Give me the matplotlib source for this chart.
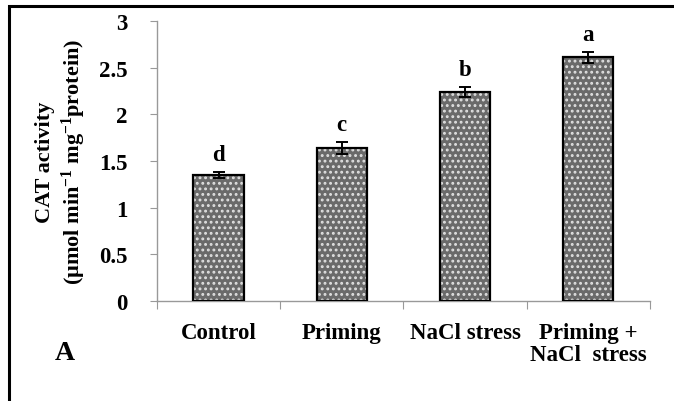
import numpy as np
import matplotlib.pyplot as plt
from matplotlib.patches import Rectangle

# Data
categories = ["Control", "Priming", "NaCl stress", "Priming +\nNaCl  stress"]
cat_activity = [1.35, 1.64, 2.24, 2.61]
errors = [0.03, 0.06, 0.05, 0.06]
letters = ["d", "c", "b", "a"]
y_ticks = [0, 0.5, 1, 1.5, 2, 2.5, 3]
y_tick_labels = ["0", "0.5", "1", "1.5", "2", "2.5", "3"]

plt.rcParams["font.family"] = ["Liberation Serif", "DejaVu Serif"]
plt.rcParams["font.weight"] = "bold"
plt.rcParams["mathtext.fontset"] = "custom"
plt.rcParams["mathtext.rm"] = "Liberation Serif:bold"
plt.rcParams["mathtext.bf"] = "Liberation Serif:bold"
plt.rcParams["mathtext.default"] = "bf"
plt.rcParams["hatch.linewidth"] = 1.3

fig = plt.figure(figsize=(6.74, 4.02), dpi=100)
ax = fig.add_axes([0.233, 0.249, 0.731, 0.696])

x = np.arange(len(categories))
width = 0.41

# textured fill, then black outline
ax.bar(x, cat_activity, width, color="#6a6a6a", edgecolor="#e0e0e0",
       hatch="...", linewidth=0, zorder=2)
ax.bar(x, cat_activity, width, fill=False, edgecolor="black",
       linewidth=1.6, zorder=3)
ax.errorbar(x, cat_activity, yerr=errors, fmt="none", ecolor="black",
            elinewidth=1.4, capsize=4, capthick=1.4, zorder=4)

for xi, v, e, lab in zip(x, cat_activity, errors, letters):
    ax.annotate(lab, (xi, v + e), xytext=(0, 5), textcoords="offset points",
                ha="center", va="bottom", fontsize=16.5, fontweight="bold")

ax.set_xlim(-0.5, 3.5)
ax.set_ylim(0, 3)
ax.set_yticks(y_ticks)
ax.set_yticklabels(y_tick_labels, fontsize=16.5, fontweight="bold")

# boundary ticks on x, labels at centres
ax.set_xticks(np.arange(-0.5, 4.0, 1.0))
ax.set_xticklabels([])
ax.set_xticks(x, minor=True)
ax.set_xticklabels(categories, minor=True, fontsize=16.5, fontweight="bold",
                   linespacing=1.05, va="top")
ax.tick_params(axis="x", which="minor", length=0, pad=15)
ax.tick_params(axis="x", which="major", length=6, color="#999999",
               direction="out")
ax.tick_params(axis="y", length=5, color="#999999", direction="out", pad=16)

for s in ["top", "right"]:
    ax.spines[s].set_visible(False)
for s in ["left", "bottom"]:
    ax.spines[s].set_color("#999999")
    ax.spines[s].set_linewidth(1.0)

ax.set_ylabel("CAT activity\n(µmol min$^{-1}$ mg$^{-1}$protein)",
              fontsize=16, fontweight="bold", linespacing=1.25, labelpad=8)

fig.text(0.081, 0.105, "A", fontsize=20, fontweight="bold")

# outer frame
fig.patches.append(Rectangle((9 / 674, -0.2), 1.2, 0.2 + (402 - 7) / 402,
                             transform=fig.transFigure, fill=False,
                             edgecolor="black", linewidth=2.2))

fig.savefig("out.png", dpi=100)
